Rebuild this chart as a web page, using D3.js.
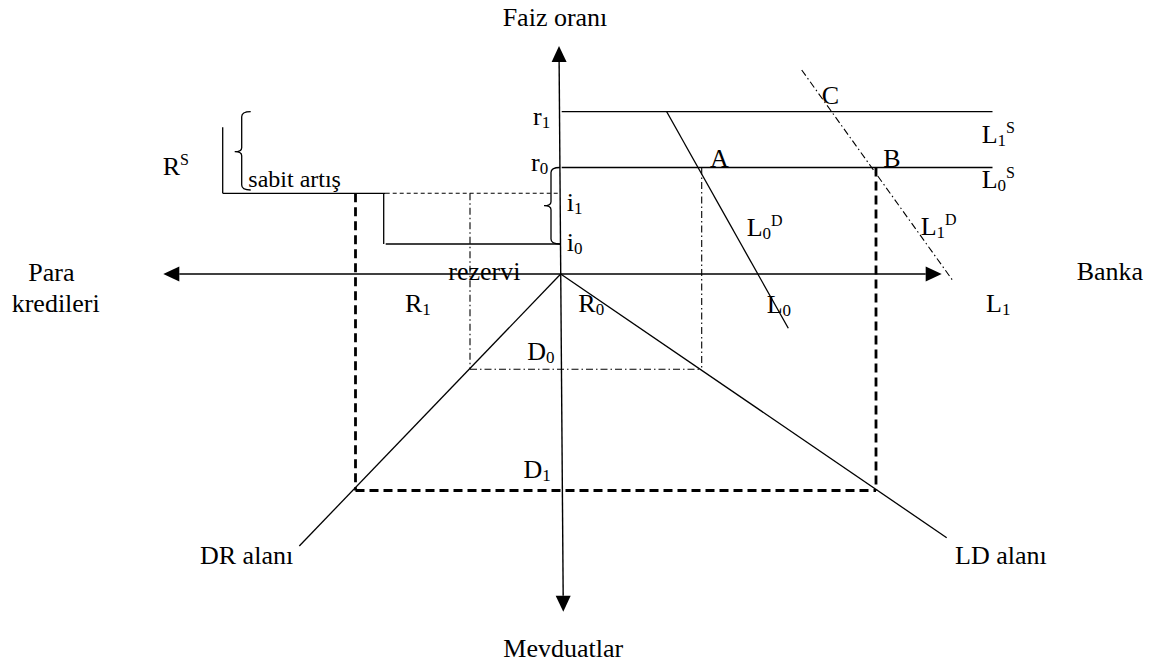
<!DOCTYPE html>
<html><head><meta charset="utf-8">
<script src="https://cdn.jsdelivr.net/npm/d3@7"></script>
<style>
html,body{margin:0;padding:0;background:#fff;}
svg{display:block;background:#fff;}
text{font-family:"Liberation Serif","Times New Roman",serif;fill:#000;}
</style>
</head><body>
<svg id="c" width="1154" height="666"></svg>
<script>
// ---- diagram values (units from the origin; x: loans right / reserves left, y: rates up / deposits down)
const rateNames   = ["r1", "r0", "i1", "i0"];
const rateValues  = [16.23, 10.65, 8.07, 3.0];
const depositNames  = ["D0", "D1"];
const depositValues = [-9.53, -21.65];
const loanNames   = ["L0", "L1"];
const loanValues  = [14.1, 31.53];
const reserveNames  = ["R0", "R1"];
const reserveValues = [-9.07, -20.52];
const supplyEnd = 43.18;                       // end of L0S, L1S
const loanDemand0 = [[10.6, 16.23], [22.76, -5.43]];   // L0D
const loanDemand1 = [[24.1, 20.4], [39.26, -0.73]];    // L1D
const drRayEnd = [-26.14, -27.2];              // DR alanı
const ldRayEnd = [38.6, -26.37];               // LD alanı
const reserveSupplyX = [-33.8, -17.5];         // RS step
const reserveSupplyTop = 14.67;
const axisX = [-39.74, 38.1];                  // horizontal axis tips
const axisY = [[-0.17, 22.8], [0.26, -33.77]]; // vertical axis tips

const labelTexts = ["Faiz oranı","Mevduatlar","Para","kredileri","Banka","r","r","i","i","sabit artış","R","rezervi","R","R","D","D","L","L","A","B","C","L","L","L","L","DR alanı","LD alanı"];
const labelSubs  = ["","","","","","1","0","1","0","","","","1","0","0","1","0","1","","","","0","1","1","0","",""];
const labelSups  = ["","","","","","","","","","","S","","","","","","","","","","","D","D","S","S","",""];
const labelX = [-0.57,-5.74,-53.24,-54.9,51.6,-2.77,-2.97,0.6,0.6,-31.24,-39.8,-11.24,-15.57,1.76,-3.34,-3.73,20.6,42.53,14.93,32.26,26.1,18.6,36.0,42.1,42.1,-36.07,39.43];
const labelY = [24.8,-38.33,-0.67,-3.77,-0.6,14.9,10.3,6.33,2.3,8.67,9.9,-0.6,-3.83,-3.83,-8.6,-20.43,-3.93,-3.77,10.7,10.7,16.97,3.83,3.9,13.13,8.57,-29.0,-29.0];

// ---- scales
const X0 = 560.7, Y0 = 274;
const x = d3.scaleLinear().domain([0, 1]).range([X0, X0 + 10]);
const y = d3.scaleLinear().domain([0, 1]).range([Y0, Y0 - 10]);
const rate = n => rateValues[rateNames.indexOf(n)];
const dep = n => depositValues[depositNames.indexOf(n)];
const loan = n => loanValues[loanNames.indexOf(n)];
const res = n => reserveValues[reserveNames.indexOf(n)];

const svg = d3.select("#c");

function seg(arr, cls) {
  return arr.map(d => ({x1: d[0][0], y1: d[0][1], x2: d[1][0], y2: d[1][1], cls}));
}
const solid = seg([
  [[0.1, rate("r1")], [supplyEnd, rate("r1")]],
  [[0.1, rate("r0")], [supplyEnd, rate("r0")]],
  loanDemand0,
  [[0, 0], drRayEnd],
  [[0, 0], ldRayEnd],
  [[reserveSupplyX[0], rate("i1")], [reserveSupplyX[1], rate("i1")]],
  [[reserveSupplyX[0], rate("i1")], [reserveSupplyX[0], reserveSupplyTop]],
  [[reserveSupplyX[1] - 0.2, rate("i1")], [reserveSupplyX[1] - 0.2, rate("i0")]],
  [[reserveSupplyX[1], rate("i0")], [0, rate("i0")]]
], "solid");
const thick = seg([
  [[res("R1"), rate("i1")], [res("R1"), dep("D1")]],
  [[loan("L1"), rate("r0")], [loan("L1"), dep("D1")]],
  [[res("R1"), dep("D1")], [loan("L1"), dep("D1")]]
], "thick");
const thin = seg([
  [[reserveSupplyX[1], rate("i1")], [0, rate("i1")]]
], "thin");
const dashdot = seg([
  loanDemand1,
  [[res("R0"), dep("D0")], [loan("L0"), dep("D0")]],
  [[loan("L0"), rate("r0")], [loan("L0"), dep("D0")]],
  [[res("R0"), rate("i1")], [res("R0"), dep("D0")]]
], "dashdot");

const styles = {
  solid:   {w: 1.3, dash: null},
  thick:   {w: 2.8, dash: "9,5"},
  thin:    {w: 1.1, dash: "4,3"},
  dashdot: {w: 1.1, dash: "7,3,1.5,3"}
};

svg.append("g").selectAll("line")
  .data([...solid, ...thick, ...thin, ...dashdot])
  .join("line")
  .attr("x1", d => x(d.x1)).attr("y1", d => y(d.y1))
  .attr("x2", d => x(d.x2)).attr("y2", d => y(d.y2))
  .attr("stroke", "#000")
  .attr("stroke-width", d => styles[d.cls].w)
  .attr("stroke-dasharray", d => styles[d.cls].dash);

// ---- axes with arrowheads
function arrow(p0, p1) {
  // p0 -> p1 tip, in pixels
  const ax = p1[0] - p0[0], ay = p1[1] - p0[1];
  const L = Math.hypot(ax, ay), ux = ax / L, uy = ay / L;
  const len = 16, hw = 7.5;
  const bx = p1[0] - ux * len, by = p1[1] - uy * len;
  svg.append("polygon")
    .attr("points", [[p1[0], p1[1]], [bx - uy * hw, by + ux * hw], [bx + uy * hw, by - ux * hw]].map(p => p.join(",")).join(" "))
    .attr("fill", "#000");
  return [bx, by];
}
const hL = [x(axisX[0]), y(0)], hR = [x(axisX[1]), y(0)];
const hLb = arrow(hR, hL), hRb = arrow(hL, hR);
svg.append("line").attr("x1", hLb[0]).attr("y1", y(0)).attr("x2", hRb[0]).attr("y2", y(0))
  .attr("stroke", "#000").attr("stroke-width", 1.4);
const vT = [x(axisY[0][0]), y(axisY[0][1])], vB = [x(axisY[1][0]), y(axisY[1][1])];
const vTb = arrow(vB, vT), vBb = arrow(vT, vB);
svg.append("line").attr("x1", vTb[0]).attr("y1", vTb[1]).attr("x2", vBb[0]).attr("y2", vBb[1])
  .attr("stroke", "#000").attr("stroke-width", 1.4);

// ---- braces
function brace(bx, top, bottom, tip) {
  const X = x(bx), T = y(top), B = y(bottom), M = y(tip);
  const p = d3.path();
  p.moveTo(X + 9, T);
  p.quadraticCurveTo(X, T, X, T + 5);
  p.lineTo(X, M - 4);
  p.quadraticCurveTo(X, M, X - 7, M);
  p.quadraticCurveTo(X, M, X, M + 4);
  p.lineTo(X, B - 5);
  p.quadraticCurveTo(X, B, X + 9, B);
  svg.append("path").attr("d", p.toString()).attr("fill", "none")
    .attr("stroke", "#000").attr("stroke-width", 1.3);
}
brace(-31.9, rate("r1"), 8.4, 12.23);
brace(-0.97, rate("r0"), rate("i0"), 6.83);

// ---- labels
const labels = labelTexts.map((t, i) => ({t, sub: labelSubs[i], sup: labelSups[i], lx: labelX[i], ly: labelY[i]}));
labels.forEach((d, i) => {
  const tx = svg.append("text")
    .attr("x", x(d.lx)).attr("y", y(d.ly))
    .attr("font-size", d.t === "sabit artış" ? 24 : 26)
    .attr("text-anchor", i === 0 ? "middle" : "start");
  tx.append("tspan").text(d.t);
  let shift = 0;
  if (d.sub) { tx.append("tspan").attr("font-size", 17).attr("dy", 3).text(d.sub); shift = 3; }
  if (d.sup) { tx.append("tspan").attr("font-size", 16).attr("dy", -10 - shift).text(d.sup); }
});
</script>
</body></html>
